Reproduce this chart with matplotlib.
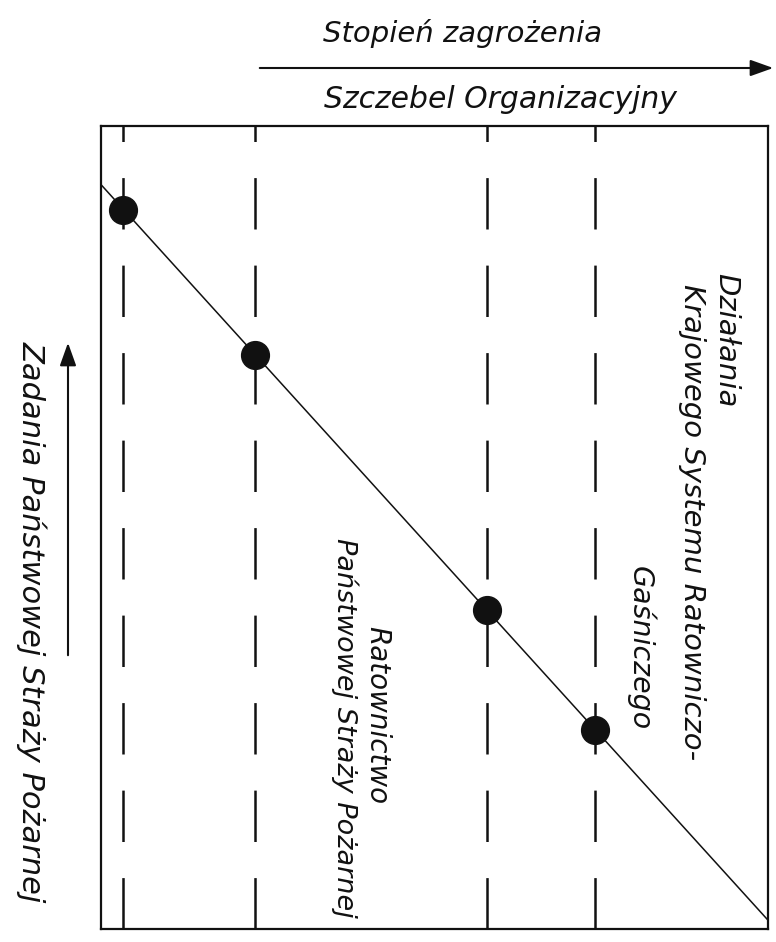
import matplotlib
matplotlib.use("Agg")
import matplotlib.pyplot as plt

# organisational levels (x) and task share of the State Fire Service (y)
levels_x = [0.33, 2.31, 5.79, 7.41]
tasks_y = [8.96, 7.15, 3.97, 2.48]
trend_x = [0.0, 10.0]
trend_y = [9.27, 0.11]

title_top = "Stopień zagrożenia"
title_bottom = "Szczebel Organizacyjny"
left_label = "Zadania Państwowej Straży Pożarnej"
mid_label = ["Ratownictwo", "Państwowej Straży Pożarnej"]
right_label = ["Działania", "Krajowego Systemu Ratowniczo-", "Gaśniczego"]

plt.rcParams["lines.scale_dashes"] = False
plt.rcParams["font.family"] = ["DejaVu Sans"]

W, H = 776, 942
fig = plt.figure(figsize=(W / 100, H / 100), dpi=100)
ax = fig.add_axes([101 / W, (H - 929) / H, 667 / W, 803 / H])
ax.set_xlim(0, 10)
ax.set_ylim(0, 10)
ax.set_xticks([])
ax.set_yticks([])
for s in ax.spines.values():
    s.set_linewidth(1.6)
    s.set_color("#111111")

for x in levels_x:
    ax.axvline(x, color="#111111", lw=1.8, linestyle=(0, (37, 26)))

ax.plot(trend_x, trend_y, color="#111111", lw=1.1, clip_on=False)
ax.plot(levels_x, tasks_y, "o", color="#111111", markersize=20)

txt = dict(fontstyle="italic", color="#111111", ha="center", va="center")


def px(x, y):
    return x / W, 1 - y / H


# top annotation with arrow
fig.text(*px(463, 33), title_top, fontsize=21, **txt)
fig.text(*px(500, 100), title_bottom, fontsize=21.5, **txt)
fig.patches.append(matplotlib.patches.FancyArrowPatch(
    px(257, 68), px(776, 68), transform=fig.transFigure,
    arrowstyle="-|>,head_length=14,head_width=5", color="#111111", lw=1.5,
    mutation_scale=1))

# left annotation with arrow
fig.text(*px(32, 622), left_label, rotation=-90, fontsize=22, **txt)
fig.patches.append(matplotlib.patches.FancyArrowPatch(
    px(68, 658), px(68, 340), transform=fig.transFigure,
    arrowstyle="-|>,head_length=14,head_width=5", color="#111111", lw=1.5,
    mutation_scale=1))

# labels inside the box
fig.text(*px(377, 715), mid_label[0], rotation=-90, fontsize=20, **txt)
fig.text(*px(345, 728), mid_label[1], rotation=-90, fontsize=19.5, **txt)
fig.text(*px(726, 340), right_label[0], rotation=-90, fontsize=21, **txt)
fig.text(*px(692, 522), right_label[1], rotation=-90, fontsize=21, **txt)
fig.text(*px(640, 648), right_label[2], rotation=-90, fontsize=20.5, **txt)

fig.savefig("out.png", dpi=100, facecolor="white")
